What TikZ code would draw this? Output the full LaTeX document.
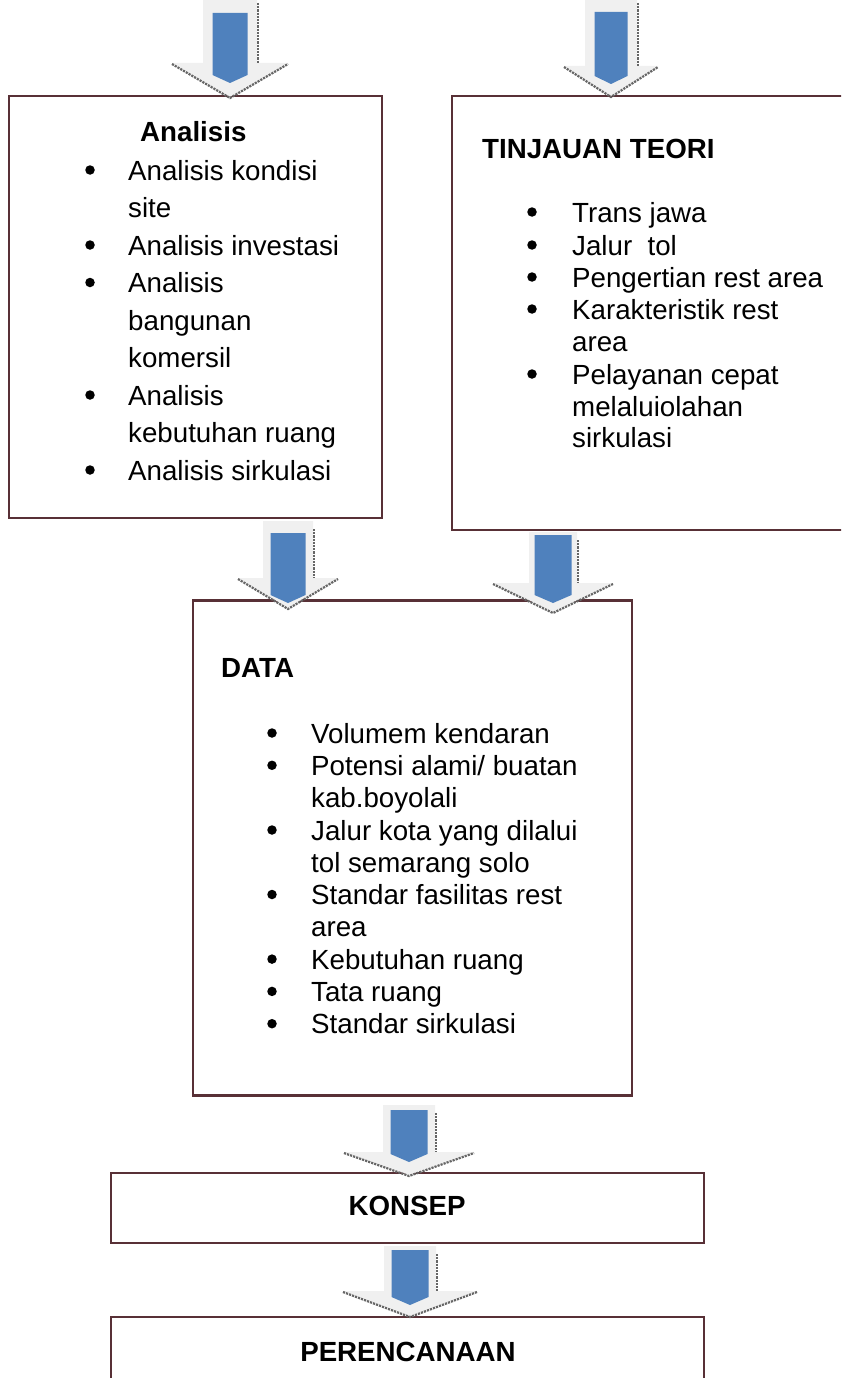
\documentclass[tikz,border=0pt]{standalone}
\usepackage{fontspec}
\setmainfont{Liberation Sans}
\definecolor{boxc}{RGB}{88,48,54}
\definecolor{arrblue}{RGB}{79,129,189}
\definecolor{arrgray}{RGB}{240,240,240}
\newcommand\blockarrow[9]{%
  \fill[arrgray] (#1-#5,#2) -- (#1+#5,#2) -- (#1+#5,#3) -- (#1+#6,#3) -- (#1,#4) -- (#1-#6,#3) -- (#1-#5,#3) -- cycle;
  \draw[shad] (#1+#5+1,#2+8) -- (#1+#5+1,#3);
  \draw[shad] (#1-#6,#3+1) -- (#1,#4+1) -- (#1+#6,#3+1);
  \fill[arrblue] (#1-#7,#8) -- (#1+#7,#8) -- (#1+#7,#9-8) -- (#1,#9) -- (#1-#7,#9-8) -- cycle;
}
\tikzset{
  box/.style={draw=boxc, line width=2.6pt, fill=white, inner sep=0pt},
  txt/.style={anchor=base west, inner sep=0pt, font=\fontsize{27.7}{33}\selectfont},
  ttl/.style={anchor=base west, inner sep=0pt, font=\fontsize{27.7}{33}\selectfont\bfseries},
  ctl/.style={anchor=base, inner sep=0pt, font=\fontsize{27.7}{33}\selectfont\bfseries},
  bul/.style={circle, fill=black, inner sep=0pt, minimum size=9.5pt},
  shad/.style={draw=black!60, line width=2.2pt, densely dotted},
}
\begin{document}
\begin{tikzpicture}[x=1pt,y=-1pt]
\useasboundingbox (0,0) rectangle (841,1378);
\clip (0,0) rectangle (841,1378);
\fill[white] (0,0) rectangle (841,1378);

% boxes
\node[box, minimum width=373pt, minimum height=422pt] (analisis) at (195.5,307) {};
\node[box, minimum width=408pt, minimum height=434pt] (teori) at (656,313) {};
\node[box, minimum width=439pt, minimum height=495pt] (data) at (412.5,848) {};
\node[box, minimum width=593pt, minimum height=70pt] (konsepbox) at (407.5,1208) {};
\node[box, minimum width=593pt, minimum height=103pt] (rencanabox) at (407.5,1368.5) {};

% arrows
\blockarrow{230}{-5}{63}{97}{27}{58}{17.5}{13}{83}
\blockarrow{611}{-5}{66}{96}{26}{47}{16.5}{12}{84}
\blockarrow{288}{521}{578}{608}{25}{50}{17.5}{533}{603}
\blockarrow{553}{532}{583}{612}{24}{60}{18.5}{535}{603}
\blockarrow{409}{1105}{1152}{1175}{26}{65}{18.5}{1110}{1162}
\blockarrow{410}{1246}{1291}{1316}{26}{67}{18.5}{1250}{1305}

% Analisis
\node[ttl] (at) at (140,142) {Analisis};
\node[bul] (ab1) at (90,170) {};
\node[txt] (a1) at (128,180) {Analisis kondisi};
\node[txt] (a1b) at (128,217.5) {site};
\node[bul] (ab2) at (90,245) {};
\node[txt] (a2) at (128,255) {Analisis investasi};
\node[bul] (ab3) at (90,282.5) {};
\node[txt] (a3) at (128,292.5) {Analisis};
\node[txt] (a3b) at (128,330) {bangunan};
\node[txt] (a3c) at (128,367.5) {komersil};
\node[bul] (ab4) at (90,395) {};
\node[txt] (a4) at (128,405) {Analisis};
\node[txt] (a4b) at (128,442.5) {kebutuhan ruang};
\node[bul] (ab5) at (90,470) {};
\node[txt] (a5) at (128,480) {Analisis sirkulasi};

% Tinjauan teori
\node[ttl] (tt) at (482,158) {TINJAUAN TEORI};
\node[bul] (tb1) at (532,212) {};
\node[txt] (t1) at (572,222) {Trans jawa};
\node[bul] (tb2) at (532,245) {};
\node[txt] (t2) at (572,255) {Jalur\ \ tol};
\node[bul] (tb3) at (532,277) {};
\node[txt] (t3) at (572,287) {Pengertian rest area};
\node[bul] (tb4) at (532,309) {};
\node[txt] (t4) at (572,319) {Karakteristik rest};
\node[txt] (t4b) at (572,351) {area};
\node[bul] (tb5) at (532,374) {};
\node[txt] (t5) at (572,384) {Pelayanan cepat};
\node[txt] (t5b) at (572,416) {melaluiolahan};
\node[txt] (t5c) at (572,447) {sirkulasi};

% Data
\node[ttl] (dt) at (221,677) {DATA};
\node[bul] (db1) at (272,733) {};
\node[txt] (d1) at (311,743) {Volumem kendaran};
\node[bul] (db2) at (272,765.3) {};
\node[txt] (d2) at (311,775.3) {Potensi alami/ buatan};
\node[txt] (d2b) at (311,807.6) {kab.boyolali};
\node[bul] (db3) at (272,830) {};
\node[txt] (d3) at (311,840) {Jalur kota yang dilalui};
\node[txt] (d3b) at (311,872.2) {tol semarang solo};
\node[bul] (db4) at (272,894.5) {};
\node[txt] (d4) at (311,904.5) {Standar fasilitas rest};
\node[txt] (d4b) at (311,936.8) {area};
\node[bul] (db5) at (272,959.1) {};
\node[txt] (d5) at (311,969.1) {Kebutuhan ruang};
\node[bul] (db6) at (272,991.4) {};
\node[txt] (d6) at (311,1001.4) {Tata ruang};
\node[bul] (db7) at (272,1023.7) {};
\node[txt] (d7) at (311,1033.7) {Standar sirkulasi};

% Konsep / Perencanaan
\node[ctl] (konsep) at (407,1215) {KONSEP};
\node[ctl] (rencana) at (408,1361) {PERENCANAAN};
\end{tikzpicture}
\end{document}
